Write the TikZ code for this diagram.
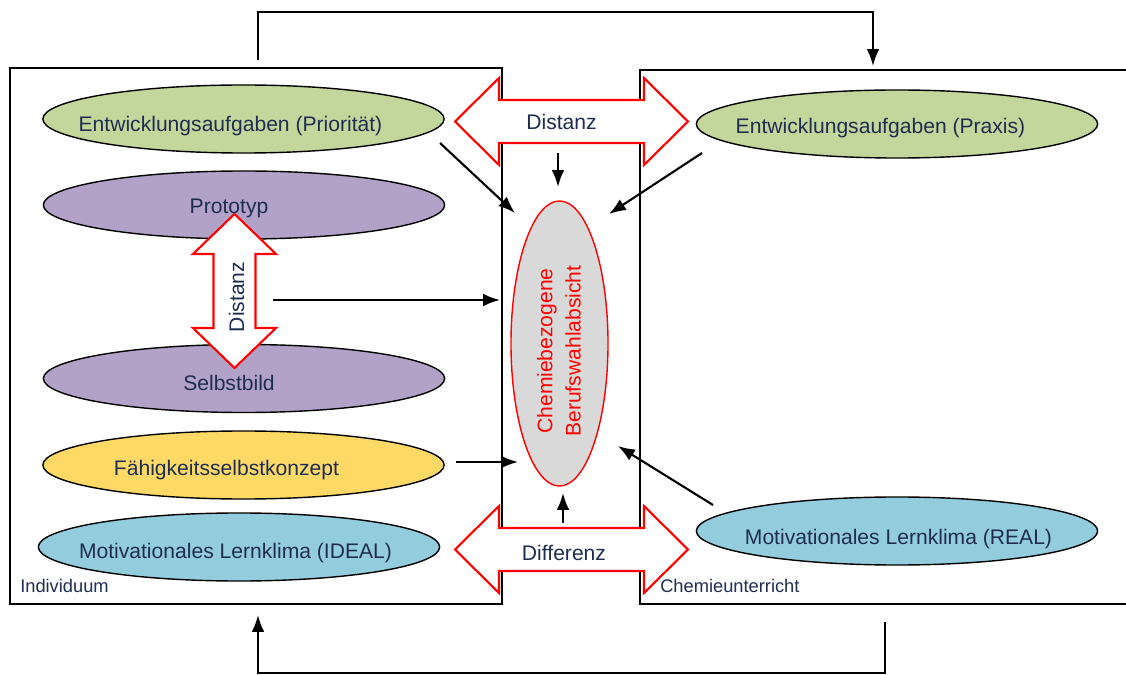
\documentclass[tikz,border=0pt]{standalone}
\usepackage{fontspec}
\setmainfont{Liberation Sans}
\usepackage{xcolor}
\usetikzlibrary{arrows.meta}
\usetikzlibrary{shapes.geometric, math}
\definecolor{mytext}{RGB}{31,45,80}
\definecolor{myred}{RGB}{255,0,0}
\definecolor{mygreen}{RGB}{195,214,155}
\definecolor{mypurple}{RGB}{179,162,199}
\definecolor{myyellow}{RGB}{255,217,102}
\definecolor{myblue}{RGB}{147,205,221}
\definecolor{mygray}{RGB}{217,217,217}
\tikzset{
  oval/.style={ellipse, draw=black, line width=1, minimum width=10.03cm, minimum height=1.7cm, inner sep=0},
  txt/.style={text=mytext, font=\fontsize{15}{18}\selectfont, inner sep=0, anchor=base},
  smalltxt/.style={text=mytext, font=\fontsize{13}{15}\selectfont, inner sep=0, anchor=base west},
  pfeil/.style={-{Latex[length=12pt,width=9pt]}, line width=1.5},
  dpfeil/.style={draw=myred, fill=white, line width=1.5, line join=miter},
  box/.style={draw=black, line width=1.5},
}

\begin{document}
\begin{tikzpicture}[x=0.025cm, y=-0.025cm]
\tikzmath{
\al=116.5;
\hl=44;
\sw=21.5;
\hw=43.5;
\vl=77;
\vhl=40;
\vsw=21;
\vhw=41.5;
}
\useasboundingbox (0,0) rectangle (1126,675);

%feedback lines:
\coordinate (topA) at (258,60);
\coordinate (topB) at (873,66);
\coordinate (botA) at (885,622);
\coordinate (botB) at (258,615);
\draw[pfeil] (topA) -- (topA |- 0,12) -- (topB |- 0,12) -- (topB);
\draw[pfeil] (botA) -- (botA |- 0,673) -- (botB |- 0,673) -- (botB);

%the two frames:
\draw[box] (10,68) rectangle (502,604);
\draw[box] (1128,70) -- (640,70) -- (640,604) -- (1128,604);
\node[smalltxt] (indiv) at (20,592) {Individuum};
\node[smalltxt] (unterricht) at (660,592) {Chemieunterricht};

%ellipses:
\node[oval, fill=mygreen] (prio) at (243.5,119) {};
\node[oval, fill=mypurple] (proto) at (244,205) {};
\node[oval, fill=mypurple] (selbst) at (244,378.5) {};
\node[oval, fill=myyellow] (faehig) at (243.5,465) {};
\node[oval, fill=myblue] (ideal) at (239,547) {};
\node[oval, fill=mygreen] (praxis) at (897,124) {};
\node[oval, fill=myblue] (real) at (897,531) {};
\node[ellipse, draw=myred, fill=mygray, line width=1, minimum width=2.425cm, minimum height=7.125cm, inner sep=0] (absicht) at (559.5,343.5) {};
\node[text=myred, font=\fontsize{15}{20}\selectfont, align=center, rotate=90, inner sep=0] (absicht-t) at (559,351) {Chemiebezogene\\Berufswahlabsicht};

%double arrows:
\begin{scope}[shift={(571.5,121.5)}]
\draw[dpfeil] (-\al,0) -- (-\al+\hl,-\hw) -- (-\al+\hl,-\sw) -- (\al-\hl,-\sw) -- (\al-\hl,-\hw) -- (\al,0) -- (\al-\hl,\hw) -- (\al-\hl,\sw) -- (-\al+\hl,\sw) -- (-\al+\hl,\hw) -- cycle;
\end{scope}
\begin{scope}[shift={(571.5,549.5)}]
\draw[dpfeil] (-\al,0) -- (-\al+\hl,-\hw) -- (-\al+\hl,-\sw) -- (\al-\hl,-\sw) -- (\al-\hl,-\hw) -- (\al,0) -- (\al-\hl,\hw) -- (\al-\hl,\sw) -- (-\al+\hl,\sw) -- (-\al+\hl,\hw) -- cycle;
\end{scope}
\begin{scope}[shift={(234.5,291)}]
\draw[dpfeil] (0,-\vl) -- (\vhw,-\vl+\vhl) -- (\vsw,-\vl+\vhl) -- (\vsw,\vl-\vhl) -- (\vhw,\vl-\vhl) -- (0,\vl) -- (-\vhw,\vl-\vhl) -- (-\vsw,\vl-\vhl) -- (-\vsw,-\vl+\vhl) -- (-\vhw,-\vl+\vhl) -- cycle;
\end{scope}
\node[txt] (distanz) at (561.5,130) {Distanz};
\node[txt] (differenz) at (564,560) {Differenz};
\node[txt, anchor=center, rotate=90] (distanz-v) at (236.5,297) {Distanz};

%labels of the ellipses:
\node[txt] (prio-t) at (230.5,131.5) {Entwicklungsaufgaben (Priorität)};
\node[txt] (proto-t) at (229,214) {Prototyp};
\node[txt] (selbst-t) at (229,390.5) {Selbstbild};
\node[txt] (faehig-t) at (226.5,475) {Fähigkeitsselbstkonzept};
\node[txt] (ideal-t) at (235.5,558) {Motivationales Lernklima (IDEAL)};
\node[txt] (praxis-t) at (880.5,133.5) {Entwicklungsaufgaben (Praxis)};
\node[txt] (real-t) at (898.5,544) {Motivationales Lernklima (REAL)};

%influences on the intention:
\coordinate (a1) at (440,143);
\coordinate (b1) at (515,213);
\coordinate (a2) at (702,153);
\coordinate (b2) at (609,214);
\coordinate (a3) at (558,153);
\coordinate (b3) at (558,187);
\coordinate (a4) at (273,300);
\coordinate (b4) at (500,300);
\coordinate (a5) at (456,462);
\coordinate (b5) at (518,462);
\coordinate (a6) at (713,505);
\coordinate (b6) at (618,446);
\coordinate (a7) at (563,523);
\coordinate (b7) at (563,493);
\foreach \i in {1,...,7}
  \draw[pfeil] (a\i) -- (b\i);
\end{tikzpicture}
\end{document}
